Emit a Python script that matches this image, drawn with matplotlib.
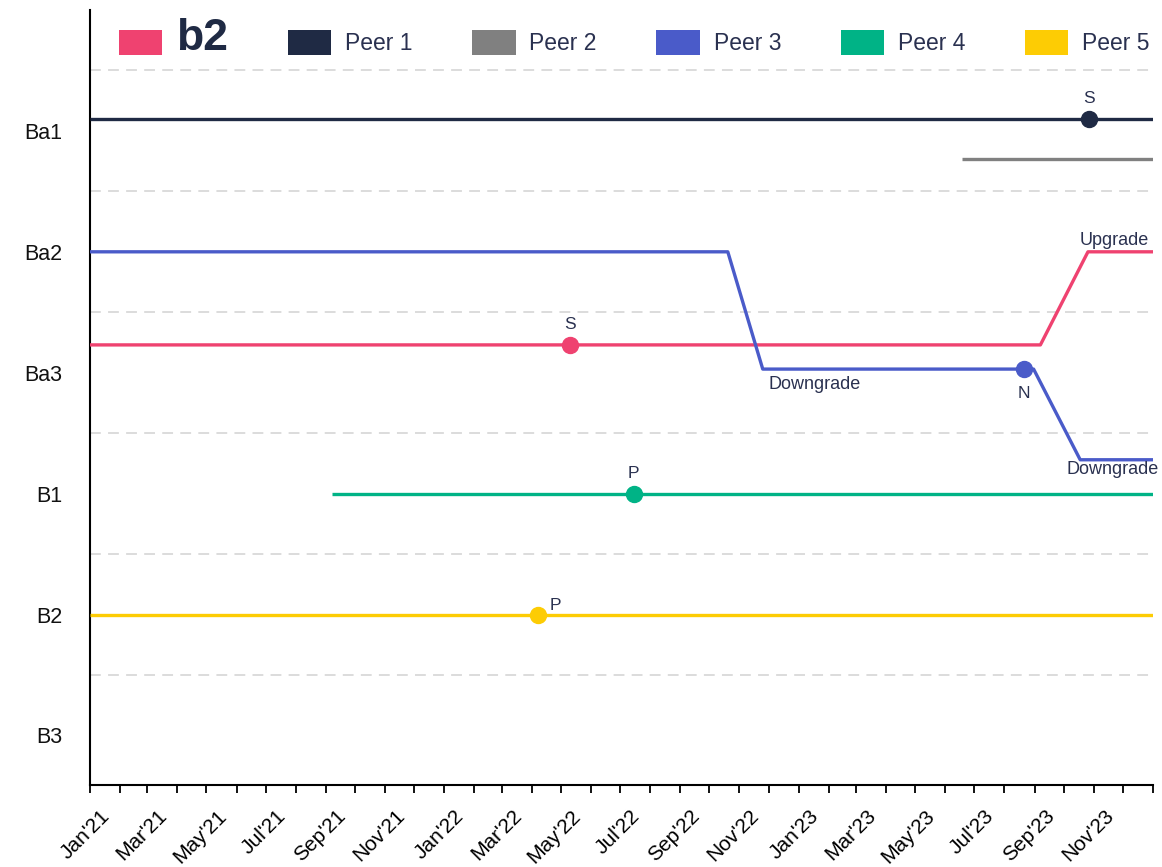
#!/usr/bin/env python3
"""
Rating history of b2 against its peers, Jan'21 - Dec'23.
"""

import matplotlib
matplotlib.use("Agg")
import matplotlib.pyplot as plt
import matplotlib.dates as mdates
import matplotlib.transforms as mtransforms
from matplotlib.patches import Patch
from matplotlib.ticker import FuncFormatter
import numpy as np
import pandas as pd

plt.rcParams['font.family'] = ['Liberation Sans', 'DejaVu Sans']

# rating scale, top to bottom
ratings = ['Ba1', 'Ba2', 'Ba3', 'B1', 'B2', 'B3']

# series: dates and rating level (0 = Ba1)
b2_dates = ['2021-01-01', '2023-09-07', '2023-10-26', '2024-01-01']
b2_levels = [1.77, 1.77, 1.0, 1.0]

peer1_dates = ['2021-01-01', '2024-01-01']
peer1_levels = [-0.10, -0.10]

peer2_dates = ['2023-06-18', '2024-01-01']
peer2_levels = [0.23, 0.23]

peer3_dates = ['2021-01-01', '2022-10-20', '2022-11-25', '2023-08-31', '2023-10-18', '2024-01-01']
peer3_levels = [1.0, 1.0, 1.97, 1.97, 2.72, 2.72]

peer4_dates = ['2021-09-07', '2024-01-01']
peer4_levels = [3.0, 3.0]

peer5_dates = ['2021-01-01', '2024-01-01']
peer5_levels = [4.0, 4.0]

# outlook events (marker + letter)
event_series = ['Peer 1', 'b2', 'Peer 3', 'Peer 4', 'Peer 5']
event_dates = ['2023-10-27', '2022-05-10', '2023-08-21', '2022-07-15', '2022-04-08']
event_levels = [-0.10, 1.77, 1.97, 3.0, 4.0]
event_letters = ['S', 'S', 'N', 'P', 'P']

# rating actions (text at the end of a step)
action_dates = ['2023-10-26', '2022-11-25', '2023-10-18']
action_levels = [1.0, 1.97, 2.72]
action_labels = ['Upgrade', 'Downgrade', 'Downgrade']

colors = {
    'b2': '#ef4270',
    'Peer 1': '#1f2a44',
    'Peer 2': '#808080',
    'Peer 3': '#4a5bc9',
    'Peer 4': '#00b386',
    'Peer 5': '#fdcc04',
}
text_color = '#2a3150'

series = [
    ('b2', b2_dates, b2_levels),
    ('Peer 1', peer1_dates, peer1_levels),
    ('Peer 2', peer2_dates, peer2_levels),
    ('Peer 3', peer3_dates, peer3_levels),
    ('Peer 4', peer4_dates, peer4_levels),
    ('Peer 5', peer5_dates, peer5_levels),
]

fig = plt.figure(figsize=(11.62, 8.67), dpi=100)
ax = fig.add_axes([90 / 1162, 1 - 785 / 867, (1153 - 90) / 1162, (785 - 10) / 867])

for name, dates, levels in series:
    ax.plot(pd.to_datetime(dates), levels, color=colors[name], lw=2.4,
            solid_capstyle='butt', zorder=3)

for name, d, lvl, letter in zip(event_series, event_dates, event_levels, event_letters):
    x = pd.Timestamp(d)
    ax.plot([x], [lvl], 'o', color=colors[name], ms=11.5, zorder=4)
    if letter == 'N':
        off, va, ha = (0, -12), 'top', 'center'
    elif name == 'Peer 5':
        off, va, ha = (8, 1), 'bottom', 'left'
    else:
        off, va, ha = (0, 9), 'bottom', 'center'
    ax.annotate(letter, (x, lvl), xytext=off, textcoords='offset points',
                ha=ha, va=va, fontsize=12.5, color=text_color, zorder=5)

for d, lvl, lab in zip(action_dates, action_levels, action_labels):
    x = pd.Timestamp(d)
    if lab == 'Upgrade':
        off, va, ha = (-6, 2), 'bottom', 'left'
    elif d < '2023-01-01':
        off, va, ha = (4, -5), 'top', 'left'
    else:
        off, va, ha = (-10, -1), 'top', 'left'
    ax.annotate(lab, (x, lvl), xytext=off, textcoords='offset points',
                ha=ha, va=va, fontsize=13, color=text_color, zorder=5,
                annotation_clip=False)

# axes
ax.set_xlim(pd.Timestamp('2021-01-01'), pd.Timestamp('2024-01-01'))
ax.set_ylim(5.41, -1.0)

ax.set_yticks(range(len(ratings)))
ax.set_yticklabels(ratings, fontsize=15.5, color='#111111')
ax.set_yticks(np.arange(len(ratings)) - 0.5, minor=True)
ax.tick_params(axis='y', which='both', length=0, pad=20)
ax.grid(axis='y', which='minor', color='#d9d9d9', lw=1.3, ls=(0, (6, 4)))


def month_label(x, pos):
    d = mdates.num2date(x)
    if d.year >= 2024:
        return ''
    return d.strftime("%b'%y")


ax.xaxis.set_major_locator(mdates.MonthLocator(bymonth=[1, 3, 5, 7, 9, 11]))
ax.xaxis.set_minor_locator(mdates.MonthLocator())
ax.xaxis.set_major_formatter(FuncFormatter(month_label))
ax.tick_params(axis='x', which='both', length=6, width=1.3, color='black')
shift = mtransforms.ScaledTranslation(0.10, -0.08, fig.dpi_scale_trans)
for lab in ax.get_xticklabels():
    lab.set_rotation(45)
    lab.set_ha('right')
    lab.set_rotation_mode('anchor')
    lab.set_fontsize(15)
    lab.set_transform(lab.get_transform() + shift)

for side in ['top', 'right']:
    ax.spines[side].set_visible(False)
for side in ['left', 'bottom']:
    ax.spines[side].set_linewidth(1.5)
    ax.spines[side].set_color('black')

# legend
handles = [Patch(facecolor=colors[name], edgecolor='none') for name, _, _ in series]
leg = ax.legend(handles, [name for name, _, _ in series], loc='center',
                bbox_to_anchor=(0.512, 0.963), ncol=6, frameon=False,
                fontsize=16.5, handlelength=1.9, handleheight=1.35,
                handletextpad=0.6, columnspacing=2.6)
for t in leg.get_texts():
    t.set_color(text_color)
leg.get_texts()[0].set_fontweight('heavy')
leg.get_texts()[0].set_fontsize(32)
leg.get_texts()[0].set_color('#1f2a44')

plt.savefig("out.png", dpi=100)
